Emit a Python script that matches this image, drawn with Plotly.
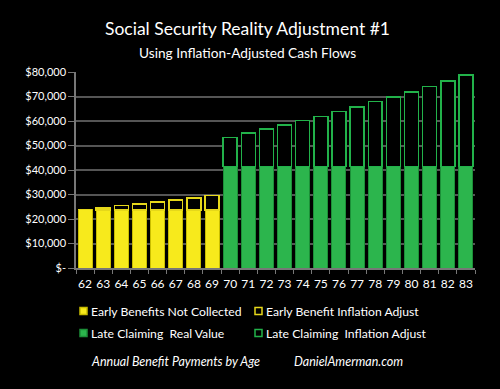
import plotly.graph_objects as go

ages = [str(a) for a in range(62, 84)]
early_ages = ages[:8]
late_ages = ages[8:]

early_real = [23800, 23600, 23600, 23600, 23600, 23600, 23600, 23600]
early_total = [23800, 24500, 25500, 26100, 26900, 27700, 28600, 29500]
late_real = [41500] * 14
late_total = [53300, 55100, 56700, 58400, 60300, 61900, 63800, 65700,
              67900, 69800, 71800, 74000, 76300, 78800]

early_infl = [t - r for t, r in zip(early_total, early_real)]
late_infl = [t - r for t, r in zip(late_total, late_real)]

y_ticks = [0, 10000, 20000, 30000, 40000, 50000, 60000, 70000, 80000]
y_ticktext = ["$-"] + ["${:,}".format(v) for v in y_ticks[1:]]

legend_names = ["Early Benefits Not Collected", "Early Benefit Inflation Adjust",
                "Late Claiming  Real Value", "Late Claiming  Inflation Adjust"]

FONT = "Lato"
W, H = 500, 389
L, R, T, B = 76, 25, 72, 121
PW, PH = W - L - R, H - T - B

YEL, YEL_LINE, YEL_OUT = "#f7ea1c", "#c9bd00", "#e6d81a"
GRN, GRN_LINE, GRN_OUT = "#2cb54d", "#1c8f38", "#22b24a"


def px(x):
    return (x - L) / PW


def py(y):
    return (H - B - y) / PH


fig = go.Figure()
fig.add_trace(go.Bar(x=early_ages, y=early_real, name=legend_names[0],
                     marker=dict(color=YEL, line=dict(color=YEL_LINE, width=1))))
fig.add_trace(go.Bar(x=early_ages, y=early_infl, name=legend_names[1],
                     marker=dict(color="#000000", line=dict(color=YEL_OUT, width=1.5))))
fig.add_trace(go.Bar(x=late_ages, y=late_real, name=legend_names[2],
                     marker=dict(color=GRN, line=dict(color=GRN_LINE, width=1))))
fig.add_trace(go.Bar(x=late_ages, y=late_infl, name=legend_names[3],
                     marker=dict(color="#000000", line=dict(color=GRN_OUT, width=1.5))))

annotations = [
    dict(text="Social Security Reality Adjustment #1", x=px(247), y=py(29),
         font=dict(size=17.5, color="#ffffff")),
    dict(text="Using Inflation-Adjusted Cash Flows", x=px(247), y=py(52),
         font=dict(size=13.7, color="#ffffff")),
    dict(text="<i>Annual Benefit Payments by Age</i>", x=px(89), y=py(361), xanchor="left",
         font=dict(size=12.5, color="#ffffff")),
    dict(text="<i>DanielAmerman.com</i>", x=px(292), y=py(361), xanchor="left",
         font=dict(size=12.5, color="#ffffff")),
]

# manual 2x2 legend
leg_pos = [(80, 311), (255, 311), (80, 333), (255, 333)]
leg_fill = [YEL, "#000000", GRN, "#000000"]
leg_line = [YEL_LINE, YEL_OUT, GRN_LINE, GRN_OUT]
shapes = []
for (lx, ly), name, fc, lc in zip(leg_pos, legend_names, leg_fill, leg_line):
    shapes.append(dict(type="rect", xref="paper", yref="paper",
                       x0=px(lx), x1=px(lx + 7), y0=py(ly + 3.5), y1=py(ly - 3.5),
                       fillcolor=fc, line=dict(color=lc, width=1.5)))
    annotations.append(dict(text=name, x=px(lx + 9), y=py(ly), xanchor="left",
                            font=dict(size=12.2, color="#ffffff")))

for a in annotations:
    a.update(xref="paper", yref="paper", showarrow=False)
    a.setdefault("xanchor", "center")
    a["yanchor"] = "middle"

fig.update_layout(
    width=W, height=H,
    barmode="stack", bargap=0.23,
    paper_bgcolor="#000000", plot_bgcolor="#000000",
    margin=dict(l=L, r=R, t=T, b=B, autoexpand=False),
    font=dict(family=FONT, color="#ffffff", size=12),
    showlegend=False,
    xaxis=dict(type="category", categoryorder="array", categoryarray=ages,
               showgrid=False, showline=True, linecolor="#777777", linewidth=1.5,
               ticks="outside", tickcolor="#777777", ticklen=4, tickson="boundaries",
               tickangle=0, automargin=False, ticklabelstandoff=4,
               tickfont=dict(size=12, color="#ffffff")),
    yaxis=dict(range=[0, 80000], tickvals=y_ticks, ticktext=y_ticktext,
               showgrid=True, gridcolor="#555555", gridwidth=1.5,
               showline=True, linecolor="#777777", linewidth=1.5,
               ticks="outside", tickcolor="#777777", ticklen=6, automargin=False,
               tickfont=dict(size=11, color="#ffffff"), zeroline=False),
    annotations=annotations,
    shapes=shapes,
)

fig.write_html("out.html", config={"displayModeBar": False},
               post_script="document.body.style.margin='0px';document.body.style.background='#000';")
